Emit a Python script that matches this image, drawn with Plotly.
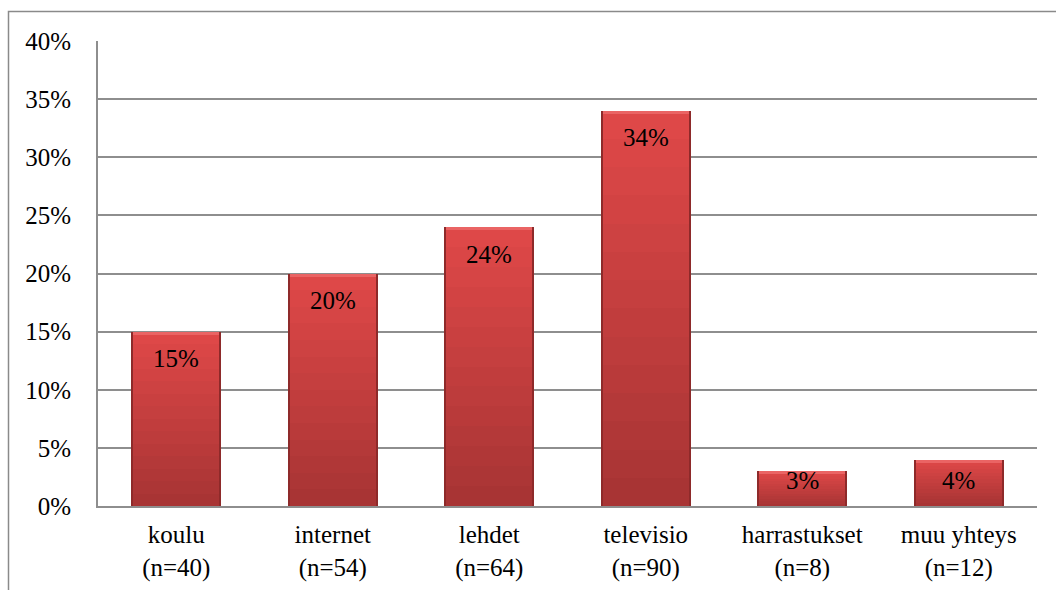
import plotly.graph_objects as go

# Data
categories = ["koulu", "internet", "lehdet", "televisio", "harrastukset", "muu yhteys"]
counts = [40, 54, 64, 90, 8, 12]
shares = [15, 20, 24, 34, 3, 4]
y_ticks = [0, 5, 10, 15, 20, 25, 30, 35, 40]
y_tick_labels = [f"{t}%" for t in y_ticks]

tick_text = [f"{c}<br>({'n=' + str(n)})" for c, n in zip(categories, counts)]

FONT = "'Times New Roman', 'Liberation Serif', serif"
GRID = "#8e8e8e"
W, H = 1056, 590
M_L, M_R, M_T, M_B = 98, 19, 41, 84
plot_w = W - M_L - M_R
plot_h = H - M_T - M_B
Y_MAX = 40
px_per_unit = plot_h / Y_MAX

BAR_W = 0.575
INNER_W = 0.55

fig = go.Figure()

# dark body gives the shaded side edges
fig.add_trace(go.Bar(
    x=categories, y=shares, width=BAR_W,
    marker=dict(color="#8e2a2a", line=dict(width=0)),
    hoverinfo="skip", showlegend=False,
))

# vertical shading: light at the top, darker toward the base
top_rgb = (222, 72, 72)
bot_rgb = (168, 52, 52)
steps = 14
for k in range(steps):
    frac = 1 - k / steps
    t = k / (steps - 1)
    col = tuple(round(a + (b - a) * t) for a, b in zip(top_rgb, bot_rgb))
    fig.add_trace(go.Bar(
        x=categories, y=[v * frac for v in shares], width=INNER_W,
        marker=dict(color="rgb(%d,%d,%d)" % col, line=dict(width=0)),
        hoverinfo="skip", showlegend=False,
    ))

# light bevel along each bar's top edge
bevel = 3 / px_per_unit
fig.add_trace(go.Bar(
    x=categories, y=[bevel] * len(shares), base=[v - bevel for v in shares],
    width=INNER_W,
    marker=dict(color="#ea6464", line=dict(width=0)),
    hoverinfo="skip", showlegend=False,
))

# value labels inside the top of each bar
annotations = []
for c, v in zip(categories, shares):
    if v * px_per_unit > 53:
        y, shift = v, -27
    else:
        y, shift = 0, 26
    annotations.append(dict(
        x=c, y=y, yshift=shift, text=f"{v}%", showarrow=False,
        xanchor="center", yanchor="middle",
        font=dict(family=FONT, size=25, color="#000000"),
    ))

# outer chart frame
shapes = [dict(
    type="rect", xref="paper", yref="paper",
    x0=(8.5 - M_L) / plot_w, x1=(W + 10 - M_L) / plot_w,
    y0=-(M_B + 10) / plot_h, y1=1 + (M_T - 11.5) / plot_h,
    line=dict(color="#8a8a8a", width=1.5), fillcolor="rgba(0,0,0,0)",
    layer="below",
)]

fig.update_layout(
    width=W, height=H,
    margin=dict(l=M_L, r=M_R, t=M_T, b=M_B),
    paper_bgcolor="white", plot_bgcolor="white",
    barmode="overlay", bargap=0,
    font=dict(family=FONT, size=25, color="#000000"),
    annotations=annotations, shapes=shapes,
    showlegend=False,
)
fig.update_xaxes(
    tickvals=categories, ticktext=tick_text,
    showline=True, linecolor=GRID, linewidth=2,
    showgrid=False, ticks="", ticklabelstandoff=5, automargin=False,
    tickfont=dict(family=FONT, size=25, color="#000000"),
)
fig.update_yaxes(
    range=[0, Y_MAX], tickvals=y_ticks, ticktext=y_tick_labels,
    showgrid=True, gridcolor=GRID, gridwidth=2,
    showline=True, linecolor=GRID, linewidth=2,
    zeroline=False, ticks="", ticklabelstandoff=20, automargin=False,
    tickfont=dict(family=FONT, size=25, color="#000000"),
)

fig.write_html("out.html")
